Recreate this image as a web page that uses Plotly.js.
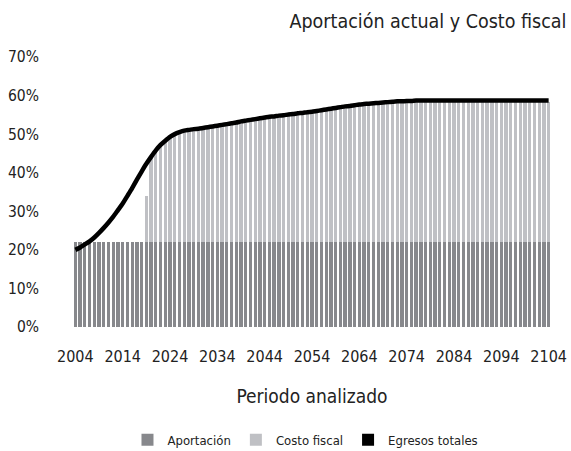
<!DOCTYPE html>
<html>
<head>
<meta charset="utf-8">
<script src="https://cdn.plot.ly/plotly-3.0.1.min.js"></script>
<style>html,body{margin:0;padding:0;background:#fff;}#chart{width:571px;height:451px;}</style>
</head>
<body>
<div id="chart"></div>
<script>
const years = [2004,2005,2006,2007,2008,2009,2010,2011,2012,2013,2014,2015,2016,2017,2018,2019,2020,2021,2022,2023,2024,2025,2026,2027,2028,2029,2030,2031,2032,2033,2034,2035,2036,2037,2038,2039,2040,2041,2042,2043,2044,2045,2046,2047,2048,2049,2050,2051,2052,2053,2054,2055,2056,2057,2058,2059,2060,2061,2062,2063,2064,2065,2066,2067,2068,2069,2070,2071,2072,2073,2074,2075,2076,2077,2078,2079,2080,2081,2082,2083,2084,2085,2086,2087,2088,2089,2090,2091,2092,2093,2094,2095,2096,2097,2098,2099,2100,2101,2102,2103,2104];

const aportacion = [22,22,22,22,22,22,22,22,22,22,22,22,22,22,22,22,22,22,22,22,22,22,22,22,22,22,22,22,22,22,22,22,22,22,22,22,22,22,22,22,22,22,22,22,22,22,22,22,22,22,22,22,22,22,22,22,22,22,22,22,22,22,22,22,22,22,22,22,22,22,22,22,22,22,22,22,22,22,22,22,22,22,22,22,22,22,22,22,22,22,22,22,22,22,22,22,22,22,22,22,22];

const costoFiscal = [0,0,0,0,0,0,0,0,0,0,0,0,0,0,0,12,
 21.8,23.5,24.9,26.0,27.0,27.7,28.2,28.6,28.8,29.0,29.1,29.3,29.5,29.7,29.9,30.1,30.3,30.5,30.7,31.0,31.2,31.4,31.6,31.8,32.0,32.2,32.3,32.5,32.6,32.8,32.9,33.1,33.2,33.4,33.5,33.7,33.9,34.1,34.3,34.5,34.7,34.9,35.0,35.2,35.4,35.5,35.6,35.7,35.8,35.9,36.0,36.1,36.2,36.2,36.3,36.3,36.4,36.4,36.4,36.4,36.4,36.4,36.4,36.4,36.4,36.4,36.4,36.4,36.4,36.4,36.4,36.4,36.4,36.4,36.4,36.4,36.4,36.4,36.4,36.4,36.4,36.4,36.4,36.4,36.4,36.4,36.4];

const egresosTotales = [20.0,20.6,21.4,22.2,23.2,24.4,25.7,27.1,28.6,30.3,32.0,34.0,36.0,38.2,40.3,42.3,
 44.1,45.8,47.2,48.3,49.3,50.0,50.5,50.9,51.1,51.3,51.4,51.6,51.8,52.0,52.2,52.4,52.6,52.8,53.0,53.3,53.5,53.7,53.9,54.1,54.3,54.5,54.6,54.8,54.9,55.1,55.2,55.4,55.5,55.7,55.8,56.0,56.2,56.4,56.6,56.8,57.0,57.2,57.3,57.5,57.7,57.8,57.9,58.0,58.1,58.2,58.3,58.4,58.5,58.5,58.6,58.6,58.7,58.7,58.7,58.7,58.7,58.7,58.7,58.7,58.7,58.7,58.7,58.7,58.7,58.7,58.7,58.7,58.7,58.7,58.7,58.7,58.7,58.7,58.7,58.7,58.7,58.7,58.7,58.7,58.7];

const tickYears = [2004,2014,2024,2034,2044,2054,2064,2074,2084,2094,2104];
const yTicks = [0,10,20,30,40,50,60,70];
const yTickText = ['0%','10%','20%','30%','40%','50%','60%','70%'];

const FONT = '"DejaVu Sans Condensed", "Liberation Sans Narrow", "Arial Narrow", sans-serif';

const traces = [
  {type:'bar', name:'Aportación', x:years, y:aportacion, marker:{color:'#87888c'}, hoverinfo:'skip'},
  {type:'bar', name:'Costo fiscal', x:years, y:costoFiscal, marker:{color:'#bfc0c4'}, hoverinfo:'skip'},
  {type:'scatter', mode:'lines', name:'Egresos totales', x:years, y:egresosTotales,
   line:{color:'#000000', width:4.5, shape:'spline', smoothing:0.6}, showlegend:false, legendgroup:'eg'},
  {type:'bar', name:'Egresos totales', x:years, y:egresosTotales, yaxis:'y2',
   marker:{color:'#000000'}, legendgroup:'eg', hoverinfo:'skip'}
];

const layout = {
  width:571, height:451,
  margin:{l:73, r:20, t:57, b:124},
  paper_bgcolor:'#ffffff', plot_bgcolor:'#ffffff',
  font:{family:FONT, color:'#222222', size:15},
  barmode:'stack', bargap:0.3,
  title:{text:'Aportación actual y Costo fiscal', font:{family:FONT, size:19.5, color:'#222222'},
         xref:'container', x:0.992, xanchor:'right', yref:'container', y:0.952, yanchor:'middle'},
  xaxis:{range:[2003.5,2104.5], tickvals:tickYears, ticktext:tickYears.map(String),
         showgrid:false, zeroline:false, showline:false, ticks:'', ticklabelstandoff:18,
         tickfont:{family:FONT, size:16, color:'#222222'},
         title:{text:'Periodo analizado', font:{family:FONT, size:19, color:'#222222'}, standoff:24}},
  yaxis:{range:[0,70], tickvals:yTicks, ticktext:yTickText, showgrid:false, zeroline:false,
         showline:false, ticks:'', ticklabelstandoff:33,
         tickfont:{family:FONT, size:15.5, color:'#222222'}},
  yaxis2:{overlaying:'y', range:[1000,2000], visible:false},
  legend:{orientation:'h', x:0.535, xanchor:'center', xref:'container', y:0.025, yref:'container', yanchor:'middle',
          font:{family:FONT, size:13, color:'#222222'}, traceorder:'normal', itemwidth:30},
  showlegend:true
};

Plotly.newPlot('chart', traces, layout, {staticPlot:true, displayModeBar:false});
</script>
</body>
</html>
